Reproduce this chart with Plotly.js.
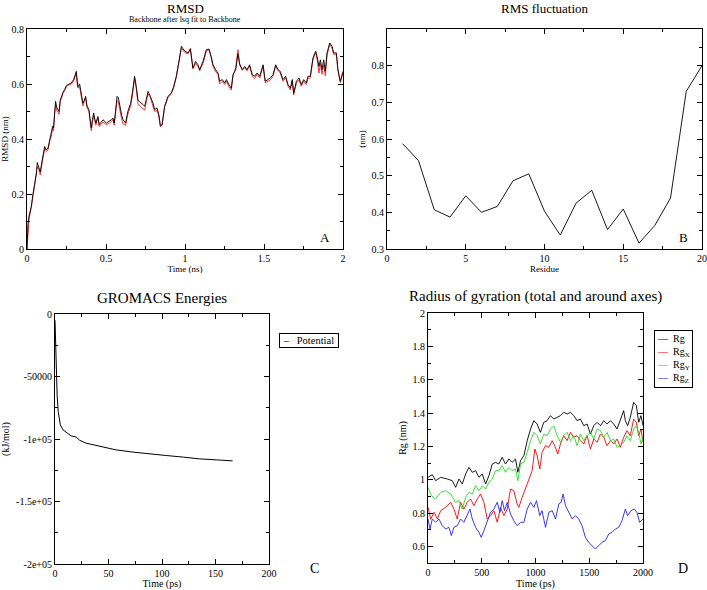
<!DOCTYPE html>
<html>
<head>
<meta charset="utf-8">
<script src="https://cdn.plot.ly/plotly-3.0.1.min.js"></script>
<style>html,body{margin:0;padding:0;background:#fff;}#chart{width:707px;height:590px;}</style>
</head>
<body>
<div id="chart"></div>
<script>
// ---------- Panel A: RMSD ----------
const rmsdTime = [0.000,0.006,0.013,0.027,0.038,0.050,0.060,0.065,0.075,0.084,0.095,0.105,0.112,0.122,0.133,0.145,0.154,0.162,0.168,0.174,0.181,0.188,0.196,0.203,0.210,0.217,0.228,0.238,0.250,0.260,0.270,0.280,0.295,0.305,0.312,0.318,0.323,0.333,0.344,0.354,0.362,0.371,0.380,0.392,0.400,0.407,0.414,0.422,0.430,0.436,0.442,0.449,0.457,0.468,0.481,0.502,0.523,0.535,0.544,0.552,0.560,0.570,0.578,0.590,0.600,0.608,0.624,0.638,0.656,0.668,0.681,0.692,0.702,0.713,0.724,0.735,0.745,0.755,0.766,0.781,0.797,0.808,0.823,0.835,0.844,0.855,0.871,0.892,0.913,0.928,0.945,0.960,0.977,0.998,1.019,1.034,1.044,1.050,1.067,1.082,1.093,1.114,1.135,1.152,1.166,1.177,1.194,1.209,1.219,1.236,1.251,1.262,1.278,1.293,1.304,1.321,1.335,1.346,1.363,1.378,1.392,1.409,1.426,1.441,1.456,1.473,1.494,1.508,1.525,1.540,1.557,1.574,1.589,1.603,1.620,1.637,1.652,1.667,1.679,1.688,1.705,1.722,1.736,1.751,1.768,1.778,1.793,1.810,1.827,1.836,1.848,1.857,1.867,1.878,1.888,1.899,1.916,1.931,1.941,1.958,1.968,1.983,2.000];
const rmsdBlack = [0.00,0.09,0.12,0.155,0.20,0.245,0.276,0.315,0.30,0.28,0.32,0.36,0.373,0.36,0.367,0.40,0.42,0.446,0.44,0.50,0.537,0.515,0.507,0.50,0.54,0.555,0.57,0.58,0.595,0.598,0.60,0.604,0.616,0.63,0.646,0.61,0.59,0.60,0.56,0.53,0.54,0.555,0.52,0.507,0.47,0.44,0.47,0.495,0.47,0.458,0.47,0.482,0.452,0.46,0.47,0.458,0.464,0.47,0.476,0.458,0.50,0.555,0.55,0.507,0.485,0.47,0.458,0.50,0.53,0.573,0.628,0.59,0.543,0.535,0.531,0.525,0.519,0.543,0.573,0.555,0.531,0.507,0.513,0.488,0.448,0.452,0.519,0.555,0.567,0.59,0.628,0.676,0.737,0.72,0.713,0.727,0.688,0.658,0.682,0.67,0.652,0.682,0.725,0.727,0.70,0.67,0.652,0.64,0.61,0.616,0.604,0.616,0.598,0.585,0.634,0.652,0.71,0.67,0.652,0.664,0.652,0.67,0.634,0.628,0.64,0.628,0.67,0.61,0.616,0.622,0.634,0.67,0.652,0.646,0.616,0.628,0.598,0.585,0.616,0.567,0.61,0.622,0.598,0.616,0.604,0.628,0.628,0.695,0.719,0.70,0.664,0.688,0.652,0.688,0.646,0.713,0.749,0.737,0.713,0.713,0.652,0.61,0.646];
const rmsdRed = [0.00,0.08,0.11,0.15,0.19,0.24,0.27,0.30,0.29,0.27,0.31,0.35,0.365,0.355,0.36,0.395,0.41,0.44,0.43,0.49,0.525,0.505,0.495,0.49,0.535,0.55,0.565,0.575,0.59,0.595,0.598,0.60,0.61,0.625,0.64,0.60,0.585,0.59,0.55,0.52,0.535,0.55,0.515,0.50,0.46,0.43,0.46,0.485,0.465,0.45,0.465,0.475,0.445,0.455,0.462,0.452,0.458,0.465,0.47,0.45,0.49,0.54,0.535,0.495,0.47,0.455,0.45,0.49,0.52,0.56,0.62,0.58,0.53,0.52,0.515,0.508,0.505,0.535,0.565,0.55,0.525,0.50,0.505,0.48,0.445,0.45,0.515,0.55,0.565,0.585,0.625,0.67,0.73,0.715,0.71,0.73,0.68,0.655,0.675,0.665,0.648,0.675,0.72,0.725,0.695,0.665,0.645,0.635,0.60,0.61,0.598,0.61,0.59,0.578,0.63,0.66,0.725,0.675,0.65,0.66,0.648,0.665,0.628,0.62,0.635,0.622,0.665,0.605,0.61,0.615,0.628,0.665,0.648,0.64,0.61,0.622,0.592,0.578,0.61,0.56,0.603,0.615,0.592,0.61,0.598,0.62,0.622,0.69,0.715,0.69,0.64,0.675,0.635,0.67,0.63,0.705,0.745,0.73,0.708,0.708,0.648,0.605,0.64];

// ---------- Panel B: RMS fluctuation ----------
const residues = [1,2,3,4,5,6,7,8,9,10,11,12,13,14,15,16,17,18,19,20];
const rmsf = [0.587,0.541,0.407,0.387,0.445,0.400,0.416,0.486,0.505,0.403,0.338,0.425,0.460,0.353,0.409,0.316,0.364,0.439,0.730,0.800];

// ---------- Panel C: GROMACS energies ----------
const energyTime = [0,0.5,1,1.5,2,3,4,5,7.5,10.6,15,20,23,29,42,57,73,88,104,120,135,151,166];
const potential = [-5000,-20000,-40000,-55000,-65000,-78000,-85000,-88700,-92700,-94800,-97500,-98500,-101000,-103300,-106000,-108700,-110500,-112000,-113200,-114500,-115900,-116700,-117500];
const energyTickVals = [0,-50000,-100000,-150000,-200000];
const energyTickText = ['0','-50000','-1e+05','-1.5e+05','-2e+05'];

// ---------- Panel D: Radius of gyration ----------
const rgTime = [0,40,71,118,180,226,257,288,319,350,381,412,443,474,505,536,567,598,628,659,690,721,752,783,814,836,861,892,923,954,985,1015,1046,1077,1108,1139,1170,1201,1232,1263,1294,1325,1356,1387,1418,1449,1480,1511,1542,1573,1604,1635,1666,1697,1728,1759,1789,1820,1836,1857,1882,1913,1938,1960,1981,2000];
const rg = [1.014,1.03,0.994,1.014,1.004,0.994,0.954,1.004,0.974,1.034,1.074,1.044,1.054,1.014,1.034,0.974,1.024,1.094,1.104,1.094,1.134,1.094,1.124,1.104,1.124,1.044,1.114,1.144,1.234,1.304,1.354,1.334,1.284,1.344,1.354,1.384,1.364,1.374,1.384,1.404,1.394,1.404,1.384,1.354,1.364,1.324,1.334,1.274,1.324,1.344,1.324,1.354,1.334,1.354,1.334,1.304,1.364,1.414,1.354,1.324,1.374,1.464,1.444,1.344,1.384,1.324];
const rgxTime = [0,25,56,87,118,164,211,241,272,303,334,365,396,427,458,489,520,551,582,613,644,675,706,737,768,798,829,845,876,907,938,969,994,1015,1040,1061,1093,1124,1155,1186,1207,1232,1263,1294,1325,1356,1387,1418,1449,1480,1511,1542,1573,1604,1635,1666,1697,1728,1759,1789,1820,1851,1882,1913,1938,1960,1981,2000];
const rgx = [0.834,0.764,0.804,0.764,0.814,0.834,0.864,0.824,0.764,0.864,0.824,0.864,0.884,0.844,0.884,0.914,0.864,0.764,0.784,0.814,0.744,0.834,0.784,0.824,0.944,0.934,0.854,0.834,0.894,0.944,1.004,1.054,1.184,1.144,1.064,1.164,1.204,1.194,1.234,1.194,1.154,1.214,1.264,1.234,1.284,1.254,1.264,1.234,1.214,1.264,1.184,1.244,1.224,1.274,1.254,1.204,1.234,1.214,1.244,1.194,1.254,1.294,1.264,1.364,1.344,1.264,1.304,1.224];
const rgyTime = [0,31,71,118,164,211,257,288,319,350,381,412,443,474,505,536,567,598,628,659,690,721,752,783,814,836,861,892,923,954,985,1015,1046,1077,1108,1139,1170,1201,1232,1263,1294,1325,1356,1387,1418,1449,1480,1511,1542,1573,1604,1635,1666,1697,1728,1759,1789,1820,1851,1882,1913,1938,1960,1981,2000];
const rgy = [0.954,0.904,0.884,0.924,0.934,0.914,0.864,0.874,0.824,0.894,0.924,0.914,0.964,0.934,0.964,0.944,0.984,1.004,1.054,1.054,1.084,1.044,1.074,1.054,1.064,0.994,1.094,1.104,1.164,1.234,1.284,1.264,1.214,1.274,1.264,1.304,1.324,1.264,1.224,1.264,1.284,1.234,1.264,1.204,1.274,1.234,1.264,1.284,1.244,1.304,1.294,1.254,1.284,1.234,1.244,1.194,1.204,1.224,1.264,1.234,1.304,1.324,1.284,1.214,1.254];
const rgzTime = [0,19,40,71,102,133,164,195,217,241,272,303,334,365,390,412,443,474,495,520,551,582,613,644,669,690,712,737,768,798,829,861,892,923,954,985,1009,1040,1061,1093,1124,1155,1186,1217,1238,1257,1279,1310,1341,1372,1402,1433,1464,1495,1526,1557,1588,1619,1650,1681,1712,1743,1774,1805,1836,1857,1888,1919,1944,1969,2000];
const rgz = [0.764,0.704,0.764,0.744,0.764,0.724,0.704,0.714,0.664,0.714,0.724,0.764,0.744,0.784,0.824,0.764,0.714,0.684,0.654,0.694,0.744,0.804,0.824,0.864,0.804,0.874,0.814,0.864,0.794,0.754,0.724,0.744,0.744,0.824,0.864,0.834,0.874,0.784,0.814,0.714,0.804,0.814,0.764,0.854,0.864,0.914,0.844,0.804,0.764,0.784,0.764,0.724,0.654,0.624,0.604,0.584,0.604,0.624,0.634,0.674,0.684,0.704,0.714,0.754,0.824,0.784,0.814,0.824,0.804,0.744,0.764];
const rgNames = ['Rg','Rg<sub>X</sub>','Rg<sub>Y</sub>','Rg<sub>Z</sub>'];
const rgColors = ['#000000','#ff0000','#22dd22','#2222ee'];

// ---------- layout helpers ----------
const W = 707, H = 590;
const F = "'Liberation Serif', serif";
const px = v => v / W;
const py = v => 1 - v / H;

function axis(opts) {
  return Object.assign({
    showline: true, linecolor: '#000', linewidth: 1, mirror: 'ticks',
    ticks: 'inside', ticklen: 5, tickwidth: 1, tickcolor: '#000',
    showgrid: false, zeroline: false, automargin: false, fixedrange: true,
    tickfont: {family: F, size: 10, color: '#000'},
  }, opts);
}
function minor(d) {
  return {dtick: d, ticks: 'inside', ticklen: 3, tickwidth: 1, tickcolor: '#000', showgrid: false};
}
function ttl(text, size, standoff) {
  return {text: text, font: {family: F, size: size, color: '#000'}, standoff: standoff};
}
function note(text, x, y, size, extra) {
  return Object.assign({text: text, x: px(x), y: py(y), xref: 'paper', yref: 'paper', showarrow: false,
    xanchor: 'center', yanchor: 'middle', font: {family: F, size: size, color: '#000'}}, extra || {});
}

const traces = [
  {x: rmsdTime, y: rmsdRed, xaxis: 'x', yaxis: 'y', mode: 'lines', line: {color: '#ff2020', width: 0.9}, showlegend: false, name: 'RMSD (red)'},
  {x: rmsdTime, y: rmsdBlack, xaxis: 'x', yaxis: 'y', mode: 'lines', line: {color: '#000', width: 0.9}, showlegend: false, name: 'RMSD'},
  {x: residues, y: rmsf, xaxis: 'x2', yaxis: 'y2', mode: 'lines', line: {color: '#000', width: 0.9}, showlegend: false, name: 'RMSF'},
  {x: energyTime, y: potential, xaxis: 'x3', yaxis: 'y3', mode: 'lines', line: {color: '#000', width: 1}, showlegend: false, name: 'Potential'},
  {x: rgTime, y: rg, xaxis: 'x4', yaxis: 'y4', mode: 'lines', line: {color: rgColors[0], width: 0.9}, showlegend: false, name: rgNames[0]},
  {x: rgxTime, y: rgx, xaxis: 'x4', yaxis: 'y4', mode: 'lines', line: {color: rgColors[1], width: 0.9}, showlegend: false, name: rgNames[1]},
  {x: rgyTime, y: rgy, xaxis: 'x4', yaxis: 'y4', mode: 'lines', line: {color: rgColors[2], width: 0.9}, showlegend: false, name: rgNames[2]},
  {x: rgzTime, y: rgz, xaxis: 'x4', yaxis: 'y4', mode: 'lines', line: {color: rgColors[3], width: 0.9}, showlegend: false, name: rgNames[3]},
];

const rgLegendText = rgNames.map((n, i) => '<span style="color:' + rgColors[i] + '">\u2014</span>\u00a0 ' + n).join('<br>');

const layout = {
  width: W, height: H,
  margin: {l: 0, r: 0, t: 0, b: 0},
  paper_bgcolor: '#fff', plot_bgcolor: '#fff',
  showlegend: false,
  font: {family: F, color: '#000'},
  xaxis: axis({domain: [px(27), px(343)], anchor: 'y', range: [0, 2], tickvals: [0, 0.5, 1, 1.5, 2], minor: minor(0.25), title: ttl('Time (ns)', 9, 2)}),
  yaxis: axis({domain: [py(249), py(29)], anchor: 'x', range: [0, 0.8], tickvals: [0, 0.2, 0.4, 0.6, 0.8], minor: minor(0.1), title: ttl('RMSD (nm)', 9, 3)}),
  xaxis2: axis({domain: [px(387), px(702)], anchor: 'y2', range: [0, 20], tickvals: [0, 5, 10, 15, 20], minor: minor(2.5), title: ttl('Residue', 9, 2)}),
  yaxis2: axis({domain: [py(249), py(29)], anchor: 'x2', range: [0.3, 0.9], tickvals: [0.3, 0.4, 0.5, 0.6, 0.7, 0.8], minor: Object.assign(minor(0.05), {tick0: 0.3}), title: ttl('(nm)', 9, 4)}),
  xaxis3: axis({domain: [px(55), px(269)], anchor: 'y3', range: [0, 200], tickvals: [0, 50, 100, 150, 200], minor: minor(25), title: ttl('Time (ps)', 10, 2)}),
  yaxis3: axis({domain: [py(564), py(314)], anchor: 'x3', range: [-200000, 0], tickvals: energyTickVals, ticktext: energyTickText, minor: minor(25000), title: ttl('(kJ/mol)', 10, 4)}),
  xaxis4: axis({domain: [px(428), px(643)], anchor: 'y4', range: [0, 2000], tickvals: [0, 500, 1000, 1500, 2000], minor: minor(250), title: ttl('Time (ps)', 10, 2)}),
  yaxis4: axis({domain: [py(563), py(313)], anchor: 'x4', range: [0.5, 2], tickvals: [0.6, 0.8, 1, 1.2, 1.4, 1.6, 1.8, 2], minor: Object.assign(minor(0.1), {tick0: 0.5}), title: ttl('Rg (nm)', 10, 4)}),
  annotations: [
    note('RMSD', 185, 9, 13),
    note('Backbone after lsq fit to Backbone', 185, 19, 8),
    note('RMS fluctuation', 545, 8, 13),
    note('GROMACS Energies', 162, 298, 15),
    note('Radius of gyration (total and around axes)', 535, 297, 15),
    note('A', 325, 237, 13),
    note('B', 683, 237, 13),
    note('C', 314, 568, 14),
    note('D', 683, 568, 14),
    note('\u00a0\u2013\u00a0\u00a0\u00a0Potential\u00a0', 279, 333, 10.5, {xanchor: 'left', yanchor: 'top', align: 'left', bordercolor: '#000', borderwidth: 1, borderpad: 1, bgcolor: '#fff'}),
    note(rgLegendText, 654, 330, 10, {xanchor: 'left', yanchor: 'top', align: 'left', bordercolor: '#000', borderwidth: 1, borderpad: 2, bgcolor: '#fff'}),
  ],
};

Plotly.newPlot('chart', traces, layout, {displayModeBar: false, staticPlot: true});
</script>
</body>
</html>
